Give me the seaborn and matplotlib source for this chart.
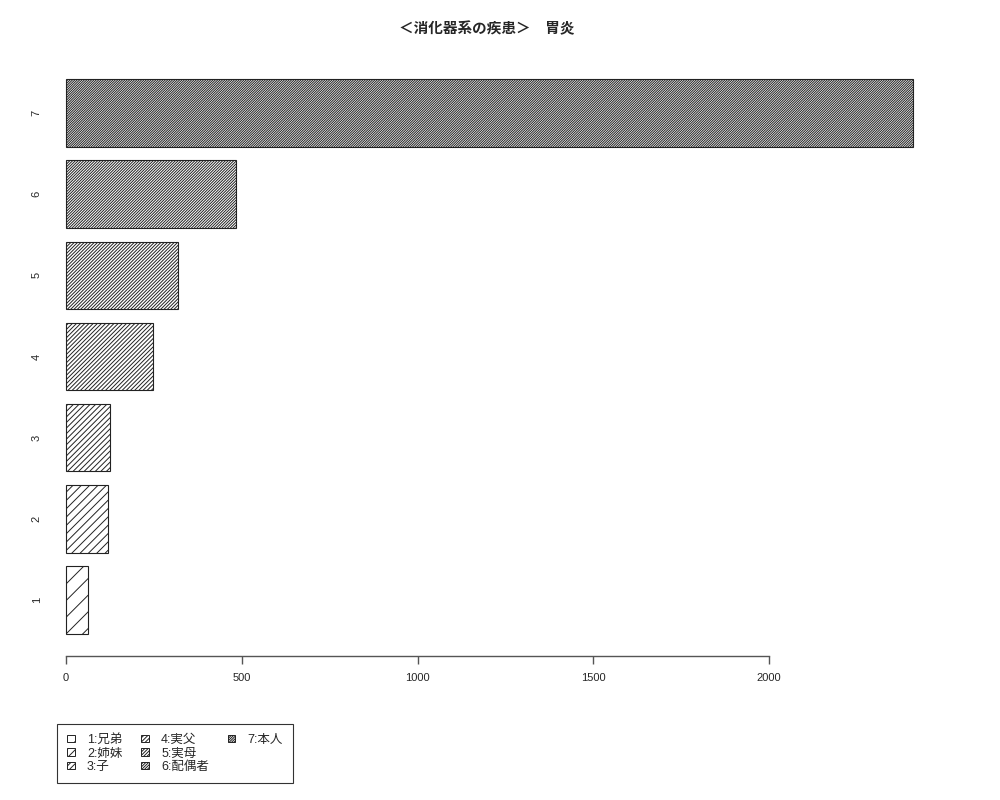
import matplotlib
matplotlib.use("Agg")
import matplotlib.pyplot as plt
from matplotlib.patches import Rectangle
import seaborn as sns
import pandas as pd

# ---- data ----
categories = ["1", "2", "3", "4", "5", "6", "7"]
legend_labels = ["1:兄弟", "2:姉妹", "3:子", "4:実父", "5:実母", "6:配偶者", "7:本人"]
counts = [64, 119, 125, 247, 320, 484, 2410]
hatch_levels = [2, 4, 6, 8, 10, 12, 14]
x_ticks = [0, 500, 1000, 1500, 2000]
title = "＜消化器系の疾患＞　胃炎"

sns.set_style("white")
plt.rcParams["font.family"] = ["Liberation Sans", "Noto Sans CJK JP", "DejaVu Sans"]
plt.rcParams["hatch.linewidth"] = 0.7
plt.rcParams["hatch.color"] = "black"

df = pd.DataFrame({"rel": categories, "count": counts})
order = categories[::-1]  # 7 on top

fig = plt.figure(figsize=(10, 8), dpi=100)
ax = fig.add_axes([0.05, 0.18, 0.897, 0.74875])

sns.barplot(data=df, x="count", y="rel", order=order, color="white",
            saturation=1, edgecolor="#222222", linewidth=0.8, width=0.833,
            ax=ax)

for p in ax.patches:
    pos = int(round(p.get_y() + p.get_height() / 2))
    cat = order[pos]
    lvl = hatch_levels[categories.index(cat)]
    p.set_hatch("/" * lvl)
    p.set_facecolor("white")

ax.set_xlim(-45.5, 2506)
ax.set_ylim(6.69, -0.69)
ax.set_xlabel("")
ax.set_ylabel("")

for s in ["top", "right", "left"]:
    ax.spines[s].set_visible(False)
ax.spines["bottom"].set_bounds(0, 2000)
ax.spines["bottom"].set_color("#555555")
ax.spines["bottom"].set_linewidth(1.0)

ax.set_xticks(x_ticks)
ax.set_xticklabels([str(t) for t in x_ticks])
ax.tick_params(axis="x", length=5.4, width=1.0, color="#555555",
               direction="out", labelsize=8, pad=6.5, bottom=True)
ax.tick_params(axis="y", length=0, labelsize=8, pad=6)
for lab in ax.get_yticklabels():
    lab.set_rotation(90)
    lab.set_va("center")

fig.text(0.487, 1 - 29 / 800, title, ha="center", va="center",
         fontsize=10.5, fontweight="bold")

handles = []
for lvl in hatch_levels:
    handles.append(Rectangle((0, 0), 1, 1, facecolor="white", edgecolor="#222222",
                             linewidth=0.7, hatch="/" * lvl))
labels = list(legend_labels)
# two blank slots so the third column holds only the last entry
for _ in range(2):
    handles.append(Rectangle((0, 0), 1, 1, visible=False))
    labels.append(" ")

leg = fig.legend(handles, labels, loc="upper left",
                 bbox_to_anchor=(57 / 1000, 1 - 724 / 800), ncol=3,
                 fontsize=9, frameon=True, fancybox=False,
                 edgecolor="black", handlelength=0.6, handleheight=0.55,
                 handletextpad=1.0, columnspacing=1.5, labelspacing=0.12,
                 borderpad=0.8, borderaxespad=0)
leg.get_frame().set_linewidth(0.8)

fig.savefig("out.png", dpi=100)
